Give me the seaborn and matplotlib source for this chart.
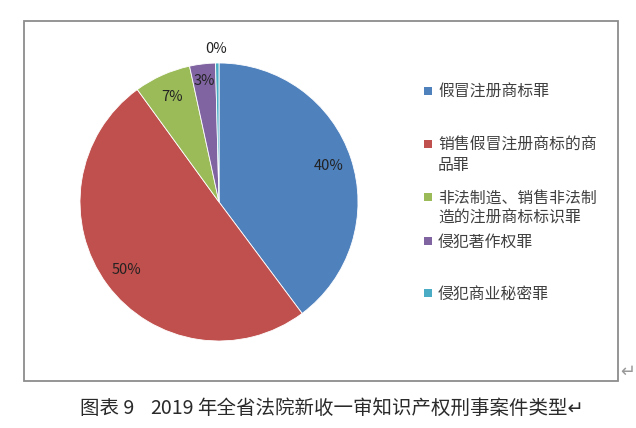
import matplotlib
matplotlib.use("Agg")
import matplotlib.pyplot as plt
import seaborn as sns
from matplotlib.patches import Rectangle

sns.set_theme(style="white")
plt.rcParams['font.family'] = ['Noto Sans CJK SC', 'DejaVu Sans']

# 案件类型及占比（%）
categories = ["假冒注册商标罪", "销售假冒注册商标的商\n品罪", "非法制造、销售非法制\n造的注册商标标识罪",
              "侵犯著作权罪", "侵犯商业秘密罪"]
shares = [39.8, 50.2, 6.6, 3.0, 0.4]
colors = ["#4F81BD", "#C0504D", "#9BBB59", "#8064A2", "#4BACC6"]
caption_parts = ["图表 9", "2019", "年全省法院新收一审知识产权刑事案件类型↵"]

W, H = 636, 428
fig = plt.figure(figsize=(W / 100, H / 100), dpi=100)
fig.patch.set_facecolor("white")

# chart border
fig.patches.append(Rectangle((24 / W, 1 - 381 / H), 594 / W, 360 / H,
                             transform=fig.transFigure, fill=False,
                             edgecolor="#8c8c8c", linewidth=1.3))

ax = fig.add_axes([80 / W, 1 - 341 / H, 278 / W, 278 / H])
wedges, texts, autotexts = ax.pie(shares, colors=colors, startangle=90, counterclock=False,
                                  autopct=lambda p: f"{p:.0f}%", pctdistance=0.83,
                                  wedgeprops=dict(linewidth=0.6, edgecolor="white"),
                                  textprops=dict(fontsize=10.5, color="#222222"))
x3, y3 = autotexts[3].get_position()
autotexts[3].set_position((x3 - 0.01, y3 + 0.05))
autotexts[-1].set_position((-0.02, 1.10))
ax.set_xlim(-1, 1)
ax.set_ylim(-1, 1)
ax.set_aspect("equal")
ax.axis("off")

# legend, marker on the first line of each entry like Excel
legend_y = [91, 144, 197, 241, 293]
for lab, col, yy in zip(categories, colors, legend_y):
    fig.patches.append(Rectangle((424 / W, 1 - (yy + 4) / H), 8 / W, 8 / H,
                                 transform=fig.transFigure, facecolor=col, edgecolor="none"))
    fig.text(438 / W, 1 - (yy - 7) / H, lab, fontsize=11.4, va="top", ha="left",
             color="#404040", linespacing=1.2)

# caption under the chart (Word style spacing)
for part, xx in zip(caption_parts, [80, 150, 197]):
    fig.text(xx / W, 1 - 408 / H, part, fontsize=14, va="center", ha="left", color="#2a2a2a")
fig.text(628 / W, 1 - 372 / H, "↵", fontsize=13, va="center", ha="center", color="#999999",
         family=['DejaVu Sans'])

fig.savefig("out.png", dpi=100)
